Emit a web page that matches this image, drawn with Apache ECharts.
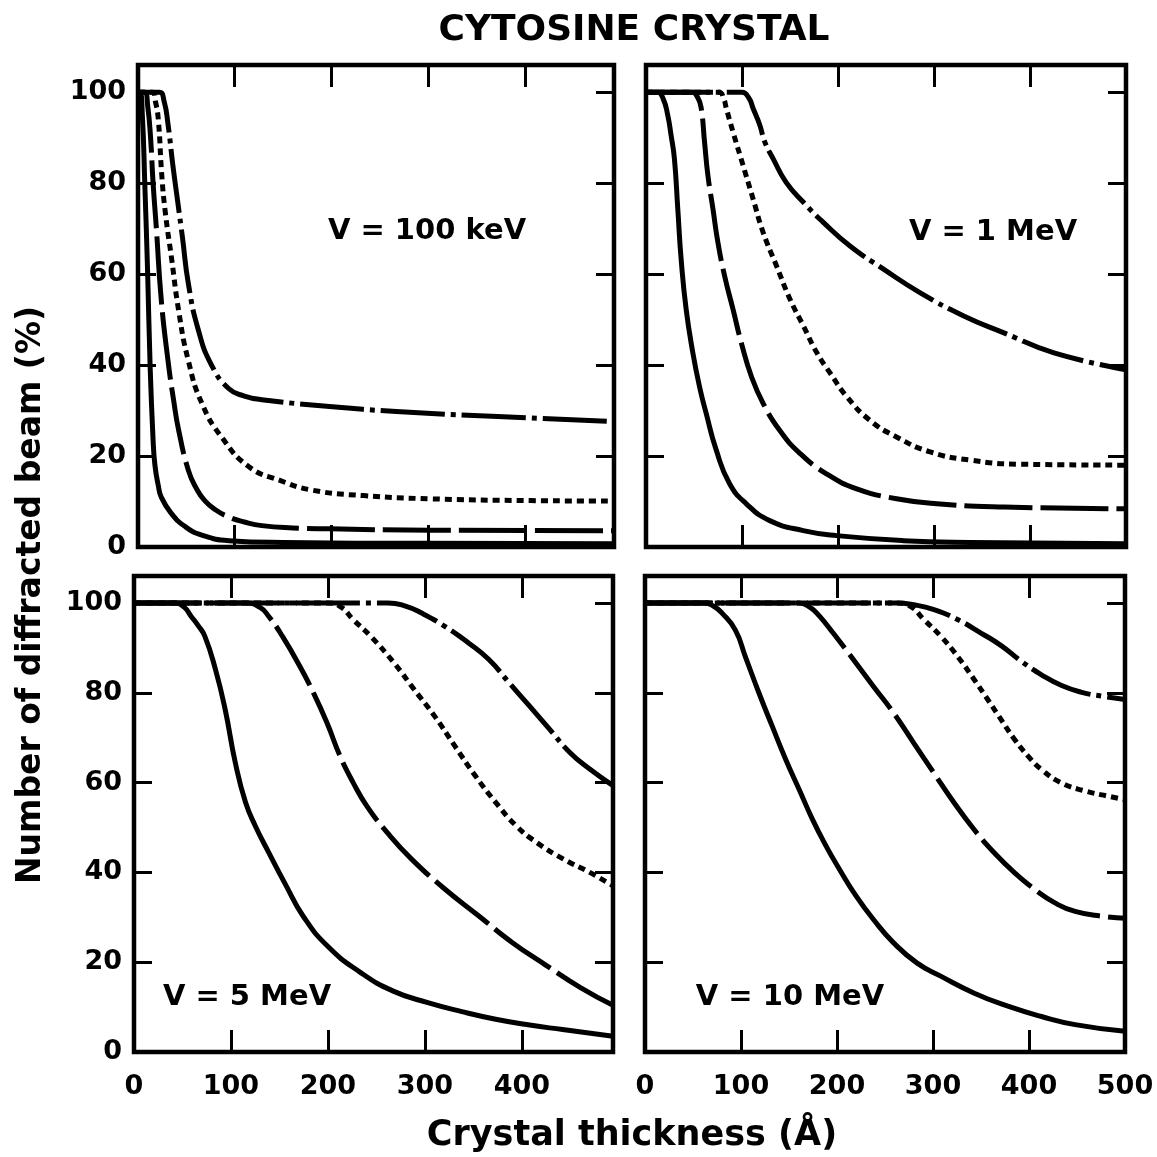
<!DOCTYPE html>
<html><head><meta charset="utf-8">
<script src="https://cdn.jsdelivr.net/npm/echarts@6/dist/echarts.min.js"></script>
<style>html,body{margin:0;padding:0;background:#fff}#c{width:1157px;height:1157px}</style>
</head><body><div id="c"></div>
<script>
// ---------------- data ----------------
const titleText = 'CYTOSINE CRYSTAL';
const xAxisTitle = 'Crystal thickness (Å)';
const yAxisTitle = 'Number of diffracted beam (%)';
const panelLabels = ['V = 100 keV', 'V = 1 MeV', 'V = 5 MeV', 'V = 10 MeV'];
const yTickValues = [0, 20, 40, 60, 80, 100];
const xTickValues = [0, 100, 200, 300, 400, 500];
const curveNames = ['solid', 'long dash', 'dotted', 'dash-dot'];

// V = 100 keV
const kev100_solid = [[0,100],[2,100],[4.5,95],[7,80],[10,60],[12.5,40],[15.5,24],[17.5,18],[21,13.5],[24,11],[34,7.5],[48,4.6],[66,2.6],[94,1.4],[150,1.0],[300,0.8],[492,0.7]];
const kev100_longdash = [[0,100],[7,100],[10,97],[13,90],[15.6,80],[19,70],[24,54.5],[31,41],[37,32],[42,25.7],[52,16.9],[60,13],[69,10.2],[80,8.2],[94,6.6],[110,5.5],[128,4.7],[160,4.2],[198,4],[302,3.7],[492,3.6]];
const kev100_dotted = [[0,100],[15,100],[18,98],[21,94],[24.5,82],[28,74],[35,63],[42,52],[52,41],[66,31.6],[87,24],[115,17.6],[146,14.7],[180,12.5],[233,11.3],[302,10.6],[406,10.2],[492,10.1]];
const kev100_dashdot = [[0,100],[22,100],[27,98],[31,93],[36,84],[41,76],[46,68],[52,58],[62,48],[76,40],[94,34.8],[110,33.2],[128,32.4],[198,30.9],[267,29.8],[372,28.7],[492,27.6]];

// V = 1 MeV
const mev1_solid = [[0,100],[12,100],[18,98.5],[22.6,95],[26.1,90.6],[29.6,85.4],[33.1,74.4],[36.6,63.3],[41.8,52.3],[48.8,42.7],[55.7,35.3],[62.7,29.4],[73.2,21.3],[87.1,13.9],[104.5,9.5],[128.9,5.8],[163.8,3.6],[198.6,2.5],[268,1.4],[338,1.0],[500,0.7]];
const mev1_longdash = [[0,100],[48,100],[54,98.8],[57.5,96.5],[61,89],[64.5,81.7],[69.7,74.4],[74.9,67],[81.9,59.6],[90.6,52.3],[99.3,44.9],[109.8,37.5],[122,31.6],[139.4,25.6],[160.3,20.6],[188,16.1],[219.5,12.8],[261,10.6],[303,9.5],[373,8.8],[500,8.4]];
const mev1_dotted = [[0,100],[76,100],[81,98.5],[83.6,96.5],[90.6,91.3],[101,84],[111.5,76.6],[122,69.2],[136,61.8],[150,54.5],[164,48.6],[178,42.7],[192,38.2],[209,33.1],[233,27.9],[261,24.2],[296,20.9],[338,19.1],[390,18.2],[500,18]];
const mev1_dashdot = [[0,100],[100,100],[107,98.8],[111.5,96.5],[118.5,92.8],[123.7,89.1],[132.4,85.4],[146,80.2],[164,75.8],[184.7,71.4],[212.5,66.2],[247.4,61.1],[285.7,55.9],[331,50.8],[372.8,47.1],[425,42.7],[500,39]];

// V = 5 MeV
const mev5_solid = [[0,100],[42,100],[52,99],[59,97],[66,95],[73,92.6],[84,85.2],[94,76.3],[104.5,64.4],[115,55.6],[125,50.4],[139,44.4],[157,37],[174,30.4],[199,23.7],[233,17.8],[268,13.5],[303,11],[338,9],[373,7.3],[408,6],[442,5],[494,3.5]];
const mev5_longdash = [[0,100],[115,100],[130,99],[139,97],[153,92.6],[171,85.9],[185,80],[199,73.3],[212.5,65.9],[226,60],[240,54.8],[261,48.9],[286,43],[320.5,36.3],[355,30.4],[390,24.4],[425,19.3],[460,14.4],[494,10.4]];
const mev5_dotted = [[0,100],[200,100],[214,99],[226,96.3],[244,92.6],[268,86.7],[289,80.7],[310,74.8],[331,68.1],[352,61.5],[373,55.6],[394,50.4],[415,46.7],[442.5,43],[470,40],[494,37]];
const mev5_dashdot = [[0,100],[262,100],[280,99.3],[296,97.8],[320.5,94.8],[345,91.1],[366,87.4],[387,82.2],[408,77],[428.5,71.9],[449.5,66.7],[470,63],[494,59.3]];

// V = 10 MeV
const mev10_solid = [[0,100],[62,100],[72,99.2],[80,97.8],[94,94],[104.6,88],[118.6,80],[132.6,72.5],[146.7,65.1],[160.7,58.4],[174.7,51.7],[188.8,45.8],[202.8,40.6],[220,34.7],[238,29.5],[259,24.3],[283.5,19.8],[308,16.9],[343,13.1],[378,10.2],[413,7.9],[448,6.1],[500,4.6]];
const mev10_longdash = [[0,100],[160,100],[172,99],[182,97],[196,93.3],[217,87.4],[238,81.4],[259,75.5],[280,68.8],[301,62.1],[322,55.5],[343,49.5],[364,44.3],[385,39.9],[406,36.2],[427,33.2],[448,31.3],[477,30.2],[500,29.8]];
const mev10_dotted = [[0,100],[262,100],[276,99.3],[290.5,96.3],[308,92.6],[325.6,88.1],[343,82.9],[357,78.5],[371,74],[385,69.6],[399,65.9],[413,62.9],[434,59.9],[459,58.1],[484,56.9],[500,56.2]];
const mev10_dashdot = [[0,100],[262,100],[280,99.6],[301,98.5],[325.6,96.3],[350,93.3],[371,90.5],[392,87],[413,84],[434,81.6],[455,80.1],[477,79.2],[500,78.5]];

const panelData = [
  [kev100_solid, kev100_longdash, kev100_dotted, kev100_dashdot],
  [mev1_solid, mev1_longdash, mev1_dotted, mev1_dashdot],
  [mev5_solid, mev5_longdash, mev5_dotted, mev5_dashdot],
  [mev10_solid, mev10_longdash, mev10_dotted, mev10_dashdot]
];

// ---------------- layout / style ----------------
const FONT = '"DejaVu Sans"';
const grids = [
  {left: 138, top: 65, width: 476, height: 482},
  {left: 646, top: 65, width: 480, height: 482},
  {left: 134, top: 576, width: 479, height: 476},
  {left: 645, top: 576, width: 480, height: 476}
];
const xMax = [492, 500, 494, 500];
const yMax = 106;
const dashTypes = ['solid', [68, 8], [7, 5], [64, 6, 5, 6]];
const labelPos = [[427, 231], [993, 232], [247, 997], [790, 997]];

const xAxes = [], yAxes = [], series = [];
const xTick = {show: true, inside: true, length: 22, lineStyle: {color: '#000', width: 3}};
const yTick = {show: true, inside: true, length: 18, lineStyle: {color: '#000', width: 3}};
const fmtX = v => (xTickValues.indexOf(v) >= 0 ? String(v) : '');
const fmtY = v => (yTickValues.indexOf(v) >= 0 ? String(v) : '');
const noLine = {show: false, onZero: false};

for (let i = 0; i < 4; i++) {
  const showX = i >= 2, showY = (i % 2) === 0;
  xAxes.push({
    type: 'value', gridIndex: i, min: 0, max: xMax[i], interval: 100, position: 'bottom',
    axisLine: noLine, splitLine: {show: false}, axisTick: xTick,
    axisLabel: {show: showX, formatter: fmtX, color: '#000', fontFamily: 'DejaVu Sans', fontWeight: 'bold', fontSize: 27, margin: 21, showMaxLabel: xMax[i] === 500}
  });
  yAxes.push({
    type: 'value', gridIndex: i, min: 0, max: yMax, interval: 20, position: 'left',
    axisLine: noLine, splitLine: {show: false}, axisTick: yTick,
    axisLabel: {show: showY, formatter: fmtY, color: '#000', fontFamily: 'DejaVu Sans', fontWeight: 'bold', fontSize: 27, margin: 12, showMaxLabel: false}
  });
}
for (let i = 0; i < 4; i++) {
  xAxes.push({
    type: 'value', gridIndex: i, min: 0, max: xMax[i], interval: 100, position: 'top',
    axisLine: noLine, splitLine: {show: false}, axisTick: xTick, axisLabel: {show: false}
  });
  yAxes.push({
    type: 'value', gridIndex: i, min: 0, max: yMax, interval: 20, position: 'right',
    axisLine: noLine, splitLine: {show: false}, axisTick: yTick, axisLabel: {show: false}
  });
}
for (let i = 0; i < 4; i++) {
  for (let k = 0; k < 4; k++) {
    series.push({
      type: 'line', name: panelLabels[i] + ' ' + curveNames[k],
      xAxisIndex: i, yAxisIndex: i, data: panelData[i][k],
      showSymbol: false, symbol: 'none', smooth: 0.5, clip: true,
      lineStyle: {color: '#000', width: 5, type: dashTypes[k], cap: 'butt', join: 'round'},
      silent: true, z: 3
    });
  }
}

const graphics = [
  {type: 'text', x: 634, y: 31, style: {text: titleText, fill: '#000', font: 'bold 36px ' + FONT, align: 'center', verticalAlign: 'middle'}},
  {type: 'text', x: 632, y: 1136, style: {text: xAxisTitle, fill: '#000', font: 'bold 35px ' + FONT, align: 'center', verticalAlign: 'middle'}},
  {type: 'text', x: 31, y: 595, rotation: Math.PI / 2, style: {text: yAxisTitle, fill: '#000', font: 'bold 33px ' + FONT, align: 'center', verticalAlign: 'middle'}}
];
for (let i = 0; i < 4; i++) {
  graphics.push({type: 'text', x: labelPos[i][0], y: labelPos[i][1], z: 10,
    style: {text: panelLabels[i], fill: '#000', font: 'bold 29px ' + FONT, align: 'center', verticalAlign: 'middle'}});
}

const chart = echarts.init(document.getElementById('c'), null, {renderer: 'canvas'});
chart.setOption({
  animation: false,
  backgroundColor: '#fff',
  grid: grids.map(g => Object.assign({show: true, borderColor: '#000', borderWidth: 4.5, backgroundColor: 'transparent', containLabel: false}, g)),
  xAxis: xAxes,
  yAxis: yAxes,
  series: series,
  graphic: graphics
});
</script></body></html>
